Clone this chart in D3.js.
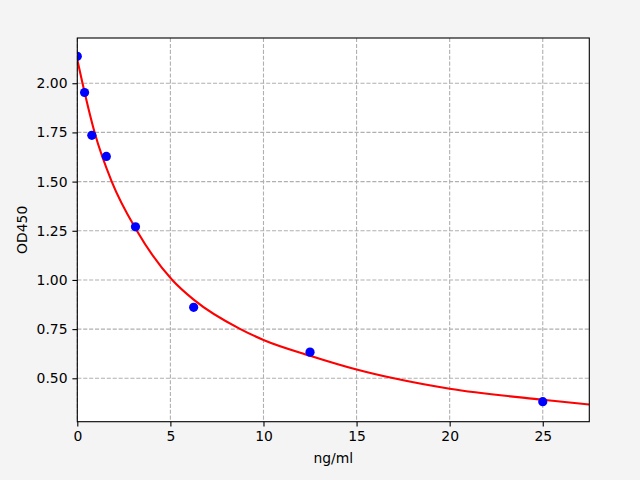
<!DOCTYPE html>
<html><head><meta charset="utf-8">
<script src="https://cdn.jsdelivr.net/npm/d3@7"></script>
<style>
html,body{margin:0;padding:0;background:#f4f4f4;}
svg{display:block;font-family:"DejaVu Sans",sans-serif;}
</style></head>
<body><svg id="c" width="640" height="480"></svg>
<script>
// Measured standards
const concentrations = [0, 0.39, 0.78, 1.56, 3.125, 6.25, 12.5, 25];
const odValues = [2.137, 1.953, 1.735, 1.628, 1.27, 0.861, 0.633, 0.381];
// Fitted curve
const curveX = [0, 0.28, 0.93, 1.85, 3.2, 5.1, 6.25, 8.76, 10, 12.5, 15, 17, 20, 25, 27.5];
const curveY = [2.12, 2.0, 1.75, 1.5, 1.25, 1.0, 0.9, 0.75, 0.695, 0.615, 0.545, 0.5, 0.447, 0.391, 0.367];
const xTicks = [0, 5, 10, 15, 20, 25];
const yTicks = [0.5, 0.75, 1.0, 1.25, 1.5, 1.75, 2.0];
const xLabel = "ng/ml";
const yLabel = "OD450";

const L = 77.3, R = 589.3, T = 38, B = 421.7;
const svg = d3.select("#c");
const x = d3.scaleLinear().domain([0, 27.5]).range([L, R]);
const y = d3.scaleLinear().domain([0.2793, 2.230]).range([B, T]);

svg.append("rect").attr("width", 640).attr("height", 480).attr("fill", "#f4f4f4");
svg.append("rect").attr("x", L).attr("y", T).attr("width", R - L).attr("height", B - T).attr("fill", "#fff");

svg.append("defs").append("clipPath").attr("id", "clip")
  .append("rect").attr("x", L).attr("y", T).attr("width", R - L).attr("height", B - T);

// grid
const grid = svg.append("g").attr("stroke", "#b0b0b0").attr("stroke-width", 1.1)
  .attr("stroke-dasharray", "4.1,1.8");
grid.selectAll(".gx").data(xTicks).join("line")
  .attr("x1", d => x(d)).attr("x2", d => x(d)).attr("y1", T).attr("y2", B);
grid.selectAll(".gy").data(yTicks).join("line")
  .attr("x1", L).attr("x2", R).attr("y1", d => y(d)).attr("y2", d => y(d));

const plot = svg.append("g").attr("clip-path", "url(#clip)");
const pts = curveX.map((v, i) => [v, curveY[i]]);
plot.append("path").datum(pts)
  .attr("d", d3.line().x(d => x(d[0])).y(d => y(d[1])).curve(d3.curveMonotoneX))
  .attr("fill", "none").attr("stroke", "#ff0000").attr("stroke-width", 2.1);
plot.selectAll("circle").data(concentrations).join("circle")
  .attr("cx", d => x(d)).attr("cy", (d, i) => y(odValues[i])).attr("r", 4.6)
  .attr("fill", "#0000ff");

// axes
const xAxis = d3.axisBottom(x).tickValues(xTicks).tickFormat(d3.format("d")).tickSize(4.9).tickPadding(4.9);
const yAxis = d3.axisLeft(y).tickValues(yTicks).tickFormat(d3.format(".2f")).tickSize(4.9).tickPadding(4.9);
const gx = svg.append("g").attr("transform", `translate(0,${B})`).call(xAxis);
const gy = svg.append("g").attr("transform", `translate(${L},0)`).call(yAxis);
[gx, gy].forEach(g => {
  g.select(".domain").remove();
  g.selectAll("line").attr("stroke", "#000").attr("stroke-width", 1.1);
  g.selectAll("text").attr("font-size", 13.9).attr("fill", "#000").attr("font-family", "DejaVu Sans");
});
svg.append("rect").attr("x", L).attr("y", T).attr("width", R - L).attr("height", B - T)
  .attr("fill", "none").attr("stroke", "#000").attr("stroke-width", 1.1);

svg.append("text").attr("x", (L + R) / 2).attr("y", 463).attr("text-anchor", "middle")
  .attr("font-size", 13.9).text(xLabel);
svg.append("text").attr("transform", `translate(27,${(T + B) / 2}) rotate(-90)`)
  .attr("text-anchor", "middle").attr("font-size", 13.9).text(yLabel);
</script></body></html>
